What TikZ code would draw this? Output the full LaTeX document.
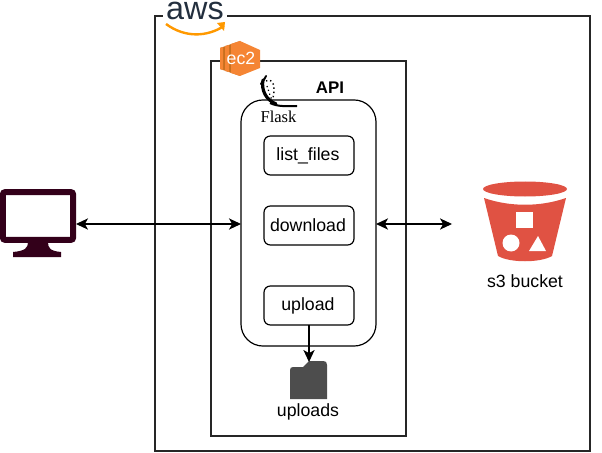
\documentclass[tikz,border=0pt]{standalone}
\usepackage{fontspec}
\setmainfont{Liberation Sans}
\newfontfamily\flaskfont{Liberation Serif}
\usetikzlibrary{arrows.meta}
\definecolor{awsnavy}{HTML}{232F3E}
\definecolor{awsorange}{HTML}{FF9900}
\definecolor{ecorange}{HTML}{F58534}
\definecolor{ecdark}{HTML}{C9701F}
\definecolor{bucketred}{HTML}{E05243}
\definecolor{screendark}{HTML}{33001A}
\definecolor{foldergrey}{HTML}{4D4D4D}

\tikzset{
  txt/.style={font=\fontsize{12.6pt}{14pt}\selectfont,inner sep=0pt},
  route/.style={draw=black,fill=white,rounded corners=1.6mm,line width=.3mm,
    minimum width=22.5mm,minimum height=9.75mm,outer sep=0pt,txt},
  frame/.style={draw=black!85,line width=.3mm},
  link/.style={line width=.3mm,{Stealth[length=3mm,width=2.8mm,inset=.8mm]}-{Stealth[length=3mm,width=2.8mm,inset=.8mm]}},
  linkone/.style={line width=.3mm,-{Stealth[length=3mm,width=2.8mm,inset=.8mm]}}
}

\begin{document}
\begin{tikzpicture}
  [x=.025cm,y=-.025cm]
  \useasboundingbox (0,0) rectangle (602,452);

  \draw[frame] (155,16) rectangle (590,451);
  \draw[frame] (211,61) rectangle (406,436);

  % aws logo
  \fill[white] (163,0) rectangle (227,37);
  \node[font=\fontsize{23pt}{24pt}\selectfont,text=awsnavy,inner sep=0pt] (aws) at (195,11) {aws};
  \draw[awsorange,line width=.6mm] (166,24) .. controls (185,38) and (207,37) .. (224,26);
  \fill[awsorange] (217,23) -- (225,22) -- (224,31) -- cycle;

  % ec2 logo
  \fill[ecdark] (220,48) -- (240,41) -- (240,76) -- (220,69) -- cycle;
  \fill[ecorange] (240,41) -- (260,50) -- (260,68) -- (240,76) -- cycle;
  \fill[ecorange] (220,48) -- (223,47) -- (223,70) -- (220,69) -- cycle;
  \fill[ecorange] (225,46) -- (229,45) -- (229,72) -- (225,71) -- cycle;
  \fill[ecorange] (231,44) -- (240,41) -- (240,76) -- (231,73) -- cycle;
  \node[text=white,font=\fontsize{12.6pt}{14pt}\selectfont,inner sep=0pt] (ec2) at (241,58) {ec2};

  % api box
  \node[draw=black,fill=white,rounded corners=5.5mm,line width=.3mm,minimum width=33.75mm,
    minimum height=61.5mm,outer sep=0pt] (api) at (308.5,223) {};
  \node[txt,font=\bfseries\fontsize{12pt}{14pt}\selectfont] (apilabel) at (330,88) {API};

  % flask logo
  \draw[black,line width=.8mm,line cap=round] (263,80) .. controls (261,90) and (266,100) .. (276,104);
  \draw[black,line width=.5mm,line cap=round] (261,84) -- (265,78) -- (266,76);
  \draw[black,line width=.5mm] (270,103) .. controls (278,107) and (286,106) .. (297,106);
  \draw[black,line width=.35mm,dotted] (266,81) .. controls (272,78) and (276,84) .. (273,98);
  \draw[black,line width=.3mm,dotted] (267,86) .. controls (269,92) and (270,96) .. (272,100);
  \node[font=\flaskfont\fontsize{11.8pt}{12pt}\selectfont,inner sep=0pt] (flask) at (278.5,117) {Flask};

  \node[route] (listfiles) at (309,155.5) {\raisebox{1pt}{list\_files\hspace{1.5pt}}};
  \node[route] (download) at (309,225.5) {\raisebox{.7pt}{download\hspace{1.5pt}}};
  \node[route] (upload) at (309,305.5) {\raisebox{.7pt}{upload\hspace{1.5pt}}};

  % monitor
  \node[draw=screendark,fill=white,line width=1.5mm,rounded corners=.5mm,minimum width=17.5mm,
    minimum height=11.9mm,outer sep=.75mm] (monitor) at (38,216) {};
  \fill[screendark] (28,242) -- (48,242) .. controls (48,248) and (50,251) .. (61,252)
    -- (61,257) -- (13,257) -- (13,252) .. controls (25,251) and (28,248) .. (28,242) -- cycle;

  % s3 bucket
  \fill[bucketred] (525,189) ellipse (42 and 7.5);
  \fill[bucketred] (484,198) .. controls (510,207) and (540,207) .. (566,198)
    -- (552,256) .. controls (540,263) and (510,263) .. (498,256) -- cycle;
  \fill[white] (516,212) rectangle (533,228);
  \fill[white] (511,243) circle (8.5);
  \fill[white] (529,251) -- (538,236) -- (546,251) -- cycle;
  \coordinate (bucket) at (452,224);
  \node[txt] (bucketlabel) at (525,281) {s3 bucket};

  % uploads folder
  \fill[foldergrey] (290,370) .. controls (290,368) and (291,367) .. (293,367) -- (303,367) -- (309,361)
    -- (323,361) .. controls (326,361) and (327,362) .. (327,365) -- (327,399) -- (290,399) -- cycle;
  \coordinate (folder) at (309,362);
  \node[txt] (folderlabel) at (308,412) {uploads};

  \draw[link] (monitor.east |- 0,224) -- (api.west |- 0,224);
  \draw[link] (api.east |- 0,224) -- (bucket);
  \draw[linkone] (upload.south) -- (folder);
\end{tikzpicture}
\end{document}
